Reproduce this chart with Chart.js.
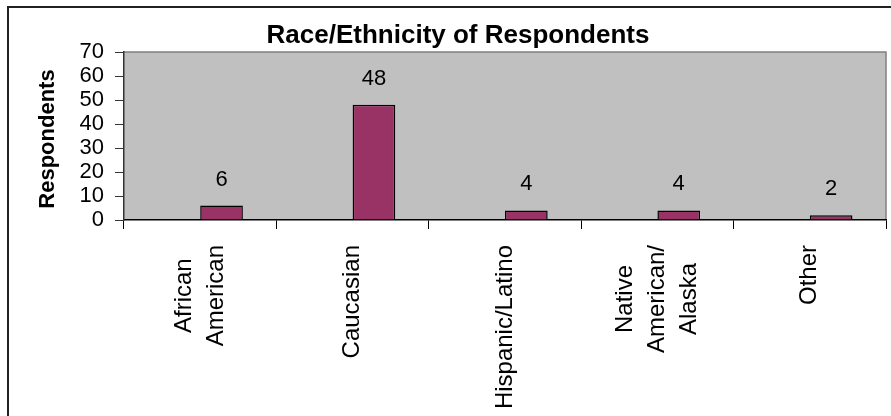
<!DOCTYPE html>
<html>
<head>
<meta charset="utf-8">
<script src="https://cdn.jsdelivr.net/npm/chart.js@4.4.1/dist/chart.umd.min.js"></script>
<style>
  html,body{margin:0;padding:0;background:#fff;}
  canvas{display:block;}
</style>
</head>
<body>
<canvas id="c" width="891" height="416"></canvas>
<script>
// data
const categories = [['African','American'], ['Caucasian'], ['Hispanic/Latino'], ['Native','American/','Alaska'], ['Other']];
const respondents = [6, 48, 4, 4, 2];
const spacer = [null, null, null, null, null]; // empty first series, excel-style offset
const yMin = 0, yMax = 70, yStep = 10;
const chartTitle = 'Race/Ethnicity of Respondents';
const yTitle = 'Respondents';

const FONT = "'Liberation Sans', Arial, sans-serif";

const chrome = {
  id: 'chrome',
  beforeDraw(chart){
    const {ctx, chartArea:a} = chart;
    ctx.save();
    ctx.fillStyle = '#fff'; ctx.fillRect(0,0,chart.width,chart.height);
    ctx.strokeStyle = '#222'; ctx.lineWidth = 2;
    ctx.strokeRect(8, 7, chart.width + 20, chart.height + 20);
    ctx.fillStyle = '#c0c0c0';
    ctx.fillRect(a.left, a.top, a.right - a.left, a.bottom - a.top);
    ctx.strokeStyle = '#808080'; ctx.lineWidth = 1.5;
    ctx.beginPath();
    ctx.moveTo(a.left, a.top); ctx.lineTo(a.right, a.top); ctx.lineTo(a.right, a.bottom);
    ctx.stroke();
    // title
    ctx.fillStyle = '#000';
    ctx.font = 'bold 26px ' + FONT;
    ctx.textAlign = 'center'; ctx.textBaseline = 'middle';
    ctx.fillText(chartTitle, 458, 36);
    // y title
    ctx.save();
    ctx.translate(48, (a.top + a.bottom) / 2 + 3);
    ctx.rotate(-Math.PI/2);
    ctx.font = 'bold 22px ' + FONT;
    ctx.fillText(yTitle, 0, 0);
    ctx.restore();
    ctx.restore();
  },
  afterDraw(chart){
    const {ctx, chartArea:a} = chart;
    const xs = chart.scales.x;
    ctx.save();
    ctx.fillStyle = '#000';
    // category labels, rotated, lines centred on the category
    ctx.font = '24px ' + FONT;
    ctx.textAlign = 'center'; ctx.textBaseline = 'middle';
    const lh = 32, top = a.bottom + 25;
    chart.data.labels.forEach((lines, i) => {
      const cx = xs.getPixelForValue(i);
      const w = Math.max(...lines.map(l => ctx.measureText(l).width));
      lines.forEach((l, j) => {
        ctx.save();
        ctx.translate(cx + (j - (lines.length - 1) / 2) * lh, top + w / 2);
        ctx.rotate(-Math.PI/2);
        ctx.fillText(l, 0, 0);
        ctx.restore();
      });
    });
    // value labels
    ctx.font = '22px ' + FONT;
    chart.getDatasetMeta(1).data.forEach((bar, i) => {
      ctx.fillText(String(respondents[i]), bar.x, bar.y - 26);
    });
    ctx.restore();
  }
};

new Chart(document.getElementById('c'), {
  type: 'bar',
  data: {
    labels: categories,
    datasets: [
      {label: '', data: spacer, backgroundColor: 'rgba(0,0,0,0)'},
      {label: 'Respondents', data: respondents, backgroundColor: '#993366', borderColor: '#000', borderWidth: 1.5}
    ]
  },
  options: {
    responsive: false,
    animation: false,
    devicePixelRatio: 1,
    categoryPercentage: 0.56,
    barPercentage: 1,
    layout: {padding: {left: 0, top: 52, right: 5, bottom: 0}},
    plugins: {legend: {display: false}, title: {display: false}, tooltip: {enabled: false}},
    scales: {
      x: {
        grid: {offset: true, drawOnChartArea: false, drawTicks: true, tickLength: 9, color: '#000'},
        border: {display: true, color: '#000', width: 1.5},
        ticks: {display: false},
        afterFit(s){ s.height = 196; }
      },
      y: {
        min: yMin, max: yMax,
        grid: {drawOnChartArea: false, drawTicks: true, tickLength: 9, color: '#333'},
        border: {display: true, color: '#333', width: 1.5},
        ticks: {stepSize: yStep, autoSkip: false, padding: 11, color: '#000', font: {family: FONT, size: 22, lineHeight: 1}},
        afterFit(s){ s.width = 124; }
      }
    }
  },
  plugins: [chrome]
});
</script>
</body>
</html>
